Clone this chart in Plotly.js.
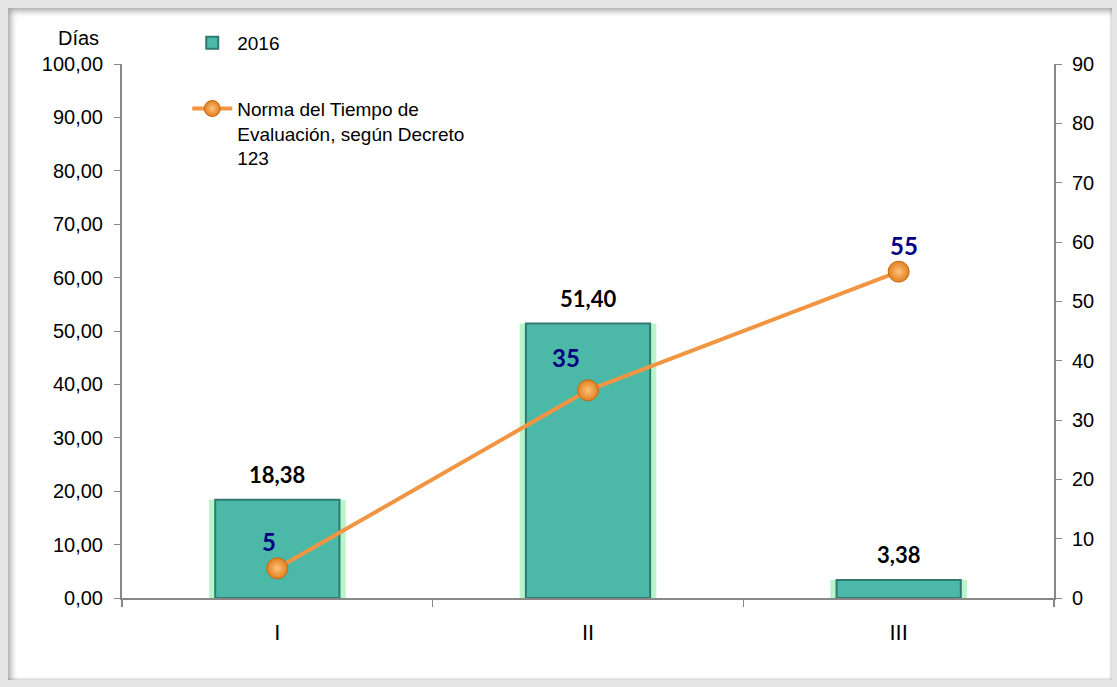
<!DOCTYPE html>
<html>
<head>
<meta charset="utf-8">
<script src="https://cdn.plot.ly/plotly-3.0.1.min.js"></script>
<style>
html,body{margin:0;padding:0;background:#e4e4e4;width:1117px;height:687px;overflow:hidden;}
#chart{position:absolute;left:8px;top:8px;width:1104px;height:672px;background:#fff;
box-shadow: inset 3px 3px 6px rgba(0,0,0,0.35), inset -1px -1px 3px rgba(0,0,0,0.15);}
</style>
</head>
<body>
<div id="chart"></div>
<script>
const categories = ['I', 'II', 'III'];
const dias2016 = [18.38, 51.40, 3.38];
const norma = [5, 35, 55];
const barLabels = ['18,38', '51,40', '3,38'];
const normaLabels = ['5', '35', '55'];
const normaShift = [-8, -22, 5];

const glow = {
  type: 'bar', x: categories, y: dias2016, width: 0.44,
  marker: {color: 'rgba(100,230,140,0.45)', line: {width: 0}},
  showlegend: false, hoverinfo: 'skip', yaxis: 'y'
};
const bars = {
  type: 'bar', name: '2016', x: categories, y: dias2016, width: 0.4,
  marker: {color: '#4cb8a8', line: {color: '#2f7a70', width: 2}},
  legendgroup: 'a', yaxis: 'y'
};
const line = {
  type: 'scatter', mode: 'lines+markers', x: categories, y: norma, yaxis: 'y2',
  name: 'Norma del Tiempo de<br>Evaluación, según Decreto<br>123',
  line: {color: '#f29543', width: 4},
  marker: {size: 21, color: '#e07f1f', line: {color: '#c8680e', width: 1},
           gradient: {type: 'radial', color: '#ffc27a'}},
  legendgroup: 'b'
};

const annotations = [];
categories.forEach((c, i) => {
  annotations.push({x: c, y: dias2016[i], xref: 'x', yref: 'y', text: '<b>' + barLabels[i] + '</b>',
    showarrow: false, yanchor: 'bottom', yshift: 10, font: {family: 'Lato, Arial', size: 22, color: '#000'}});
  annotations.push({x: c, y: norma[i], xref: 'x', yref: 'y2', text: '<b>' + normaLabels[i] + '</b>',
    showarrow: false, yanchor: 'bottom', yshift: i === 1 ? 16 : 10, xshift: normaShift[i],
    font: {family: 'Lato, Arial', size: 24, color: '#000080'}});
});
annotations.push({xref: 'paper', yref: 'paper', x: -0.047, y: 1.025, text: 'Días', showarrow: false,
  xanchor: 'center', yanchor: 'bottom', font: {family: 'Liberation Sans, Arial', size: 20, color: '#000'}});

const layout = {
  width: 1104, height: 672,
  margin: {l: 114, r: 58, t: 56, b: 82},
  paper_bgcolor: 'rgba(0,0,0,0)', plot_bgcolor: 'rgba(0,0,0,0)',
  separators: ',.',
  barmode: 'overlay',
  font: {family: 'Liberation Sans, Arial', size: 20, color: '#000'},
  xaxis: {type: 'category', showline: true, linecolor: '#888', linewidth: 2, ticks: 'outside',
    tickson: 'boundaries', ticklen: 7, tickcolor: '#888', tickwidth: 1.5, showgrid: false,
    tickfont: {size: 22}, range: [-0.5, 2.5], ticklabelstandoff: 14},
  yaxis: {range: [0, 100], dtick: 10, tickformat: '.2f', showline: true, linecolor: '#888', linewidth: 2,
    ticks: 'outside', ticklen: 6, tickcolor: '#888', showgrid: false, zeroline: false, tickfont: {size: 20},
    ticklabelstandoff: 7},
  yaxis2: {range: [0, 90], dtick: 10, overlaying: 'y', side: 'right', showline: true, linecolor: '#888',
    linewidth: 2, ticks: 'outside', ticklen: 6, tickcolor: '#888', showgrid: false, zeroline: false,
    tickfont: {size: 20}, ticklabelstandoff: 6},
  legend: {x: 0.07, y: 1.075, xanchor: 'left', yanchor: 'top', traceorder: 'grouped', valign: 'top',
    tracegroupgap: 38, font: {size: 19}, bgcolor: 'rgba(0,0,0,0)', itemwidth: 40},
  annotations: annotations,
  showlegend: true
};

Plotly.newPlot('chart', [glow, bars, line], layout, {displayModeBar: false, staticPlot: true});
</script>
</body>
</html>
